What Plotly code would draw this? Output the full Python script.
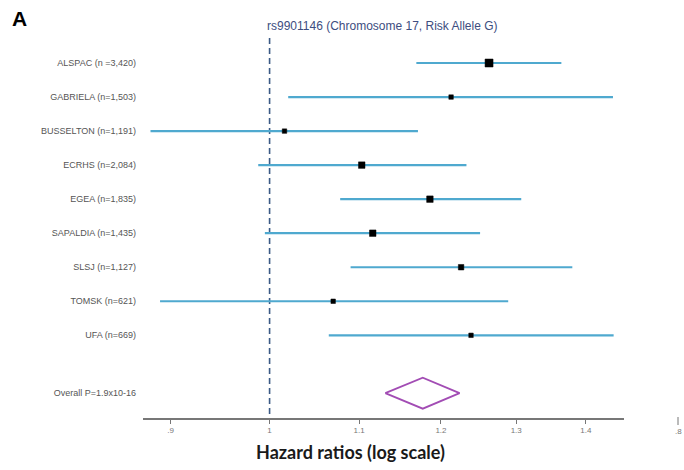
import math
import plotly.graph_objects as go

studies = ["ALSPAC (n =3,420)", "GABRIELA (n=1,503)", "BUSSELTON (n=1,191)", "ECRHS (n=2,084)",
           "EGEA (n=1,835)", "SAPALDIA (n=1,435)", "SLSJ (n=1,127)", "TOMSK (n=621)", "UFA (n=669)"]
hr = [1.263, 1.213, 1.016, 1.103, 1.186, 1.116, 1.226, 1.070, 1.239]
ci_low = [1.169, 1.020, 0.881, 0.988, 1.078, 0.995, 1.090, 0.890, 1.065]
ci_high = [1.364, 1.441, 1.171, 1.233, 1.307, 1.251, 1.380, 1.289, 1.442]
marker_px = [8, 4.5, 4.5, 6.5, 6.5, 6.5, 5.5, 4.5, 4.5]

overall_label = "Overall P=1.9x10-16"
overall_hr = 1.177
overall_low = 1.131
overall_high = 1.224

tick_vals = [0.9, 1.0, 1.1, 1.2, 1.3, 1.4]
tick_text = [".9", "1", "1.1", "1.2", "1.3", "1.4"]

title_text = "rs9901146 (Chromosome 17, Risk Allele G)"
xaxis_title = "Hazard ratios (log scale)"

rows = list(range(1, len(studies) + 1))
overall_row = 10.7
y_top, y_bot = 0.265, 11.43

fig = go.Figure()

# reference line at HR = 1
fig.add_trace(go.Scatter(x=[1, 1], y=[y_top, y_bot], mode="lines",
                         line=dict(color="#3b5a85", width=1.6, dash="6px,4px"),
                         hoverinfo="skip", showlegend=False))

# confidence intervals
cx, cy = [], []
for lo, hi, r in zip(ci_low, ci_high, rows):
    cx += [lo, hi, None]
    cy += [r, r, None]
fig.add_trace(go.Scatter(x=cx, y=cy, mode="lines",
                         line=dict(color="#4fa9cf", width=2.2),
                         hoverinfo="skip", showlegend=False))

# point estimates
fig.add_trace(go.Scatter(x=hr, y=rows, mode="markers",
                         marker=dict(symbol="square", size=marker_px, color="#000000",
                                     opacity=1, line=dict(width=0.5, color="#000000")),
                         showlegend=False))

# overall diamond
h = 0.456
fig.add_trace(go.Scatter(x=[overall_low, overall_hr, overall_high, overall_hr, overall_low],
                         y=[overall_row, overall_row - h, overall_row, overall_row + h, overall_row],
                         mode="lines", line=dict(color="#a24cb4", width=1.8),
                         hoverinfo="skip", showlegend=False))

W, H = 684, 470
pl, pr, pt, pb = 143, 60, 38, 52
pw, ph = W - pl - pr, H - pt - pb

def px(xp):
    return (xp - pl) / pw

def py(yp):
    return 1 - (yp - pt) / ph

fig.update_layout(
    width=W, height=H,
    margin=dict(l=pl, r=pr, t=pt, b=pb),
    paper_bgcolor="white", plot_bgcolor="white",
    font=dict(family="Liberation Sans, Arial, sans-serif"),
    showlegend=False,
    xaxis=dict(type="log", range=[math.log10(0.874), math.log10(1.458)],
               tickvals=tick_vals, ticktext=tick_text,
               showgrid=False, zeroline=False,
               showline=True, linecolor="#777777", linewidth=1.5,
               ticks="outside", ticklen=4, tickcolor="#777777", tickwidth=1,
               tickfont=dict(size=8, color="#777777")),
    yaxis=dict(range=[y_bot, y_top], tickvals=rows + [overall_row],
               ticktext=studies + [overall_label],
               showgrid=False, zeroline=False, showline=False,
               ticks="", ticklabelstandoff=6,
               tickfont=dict(size=9, color="#555555")),
    shapes=[dict(type="line", xref="paper", yref="paper",
                 x0=px(678), x1=px(678), y0=py(417), y1=py(425),
                 line=dict(color="#777777", width=1))],
    annotations=[
        dict(text="<b>A</b>", x=px(10), y=py(19), xref="paper", yref="paper", showarrow=False,
             font=dict(size=21, color="black", family="Liberation Sans, Arial"),
             xanchor="left", yanchor="middle"),
        dict(text=title_text, x=px(382), y=py(26), xref="paper", yref="paper",
             showarrow=False, xanchor="center", yanchor="middle",
             font=dict(size=12, color="#3d4d80")),
        dict(text="<b>" + xaxis_title + "</b>", x=px(350), y=py(452), xref="paper", yref="paper",
             showarrow=False, xanchor="center", yanchor="middle",
             font=dict(size=18, color="#1a1a1a", family="Lato, Open Sans, sans-serif")),
        dict(text=".8", x=px(678), y=py(432), xref="paper", yref="paper",
             showarrow=False, xanchor="center", yanchor="middle",
             font=dict(size=8, color="#777777")),
    ],
)

fig.write_html("out.html")
